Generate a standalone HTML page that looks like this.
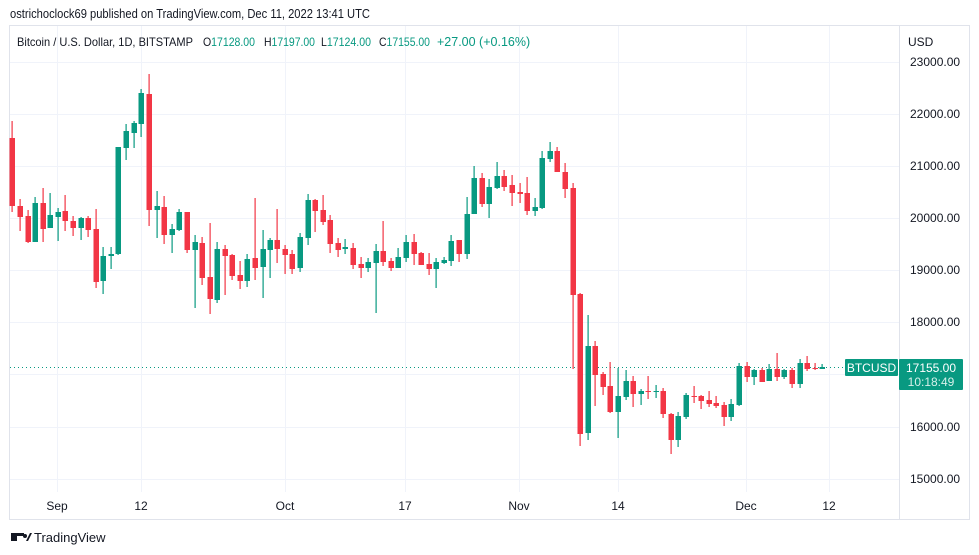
<!DOCTYPE html>
<html><head><meta charset="utf-8"><style>
body{margin:0;background:#fff;width:979px;height:555px;overflow:hidden;font-family:"Liberation Sans",sans-serif;}
</style></head><body>
<svg id="s" width="979" height="555" style="position:absolute;left:0;top:0;" xmlns="http://www.w3.org/2000/svg">
<text x="10" y="18" font-size="12.5" fill="#131722" textLength="360" lengthAdjust="spacingAndGlyphs">ostrichoclock69 published on TradingView.com, Dec 11, 2022 13:41 UTC</text>
<rect x="9.5" y="25.5" width="960" height="494" fill="none" stroke="#e0e3eb"/>
<line x1="899.5" y1="25" x2="899.5" y2="520" stroke="#e0e3eb"/>
<g id="grid" stroke="#f0f3fa" stroke-width="1"></g>
<g font-size="12" fill="#131722" font-family="Liberation Sans, sans-serif">
<text x="17" y="46" textLength="176" lengthAdjust="spacingAndGlyphs">Bitcoin / U.S. Dollar, 1D, BITSTAMP</text>
<text x="203" y="46" textLength="52" lengthAdjust="spacingAndGlyphs">O<tspan fill="#089981">17128.00</tspan></text>
<text x="264" y="46" textLength="51" lengthAdjust="spacingAndGlyphs">H<tspan fill="#089981">17197.00</tspan></text>
<text x="321" y="46" textLength="50" lengthAdjust="spacingAndGlyphs">L<tspan fill="#089981">17124.00</tspan></text>
<text x="379" y="46" textLength="51" lengthAdjust="spacingAndGlyphs">C<tspan fill="#089981">17155.00</tspan></text>
<text x="437" y="46" fill="#089981" font-size="12.5">+27.00 (+0.16%)</text>
<text x="908" y="46">USD</text>
</g>
<g id="yl" font-size="12" fill="#131722" font-family="Liberation Sans, sans-serif"></g>
<g id="xl" font-size="12" fill="#131722" font-family="Liberation Sans, sans-serif" text-anchor="middle"></g>
<line x1="10" y1="367.5" x2="845" y2="367.5" stroke="#089981" stroke-dasharray="1,3"/>
<g id="c"></g>
<rect x="845" y="359" width="53" height="17" rx="1" fill="#089981"/>
<text x="871.5" y="372" font-size="12" fill="#fff" text-anchor="middle">BTCUSD</text>
<rect x="899" y="359" width="64" height="31" rx="1" fill="#089981"/>
<text x="931" y="372" font-size="12" fill="#fff" text-anchor="middle">17155.00</text>
<text x="931" y="386" font-size="12" fill="#d6f0ea" text-anchor="middle">10:18:49</text>
<g transform="translate(11,531)"><rect x="0" y="2" width="6" height="8" fill="#131722"/><rect x="4" y="2" width="9" height="3" fill="#131722"/><circle cx="14" cy="5" r="2" fill="#131722"/><path d="M15 10 L19 2 L21 2 L17 10Z" fill="#131722"/></g>
<text x="34" y="542" font-size="13" fill="#131722">TradingView</text>
</svg>
<script>
var ns="http://www.w3.org/2000/svg";
function el(p,t,a,txt){var e=document.createElementNS(ns,t);for(var k in a)e.setAttribute(k,a[k]);if(txt)e.textContent=txt;document.getElementById(p).appendChild(e);}
var ys=[62,114,166,218,270,322,374,427,479],pr=[23000,22000,21000,20000,19000,18000,17000,16000,15000];
ys.forEach(function(y,i){el('grid','line',{x1:10,x2:899,y1:y+.5,y2:y+.5});if(pr[i]!=17000)el('yl','text',{x:910,y:y+4},pr[i].toFixed(2));});
var xs=[[57,'Sep'],[141,'12'],[285,'Oct'],[405,'17'],[519,'Nov'],[618,'14'],[746,'Dec'],[829,'12']];
xs.forEach(function(a){el('grid','line',{x1:a[0]+.5,x2:a[0]+.5,y1:26,y2:492});el('xl','text',{x:a[0],y:510},a[1]);});
var d=[
[12,121,212,138,206,'r'],[20,199,231,206,217,'r'],[28,210,243,216,242,'r'],[35,197,242,203,242,'g'],[43,188,242,203,229,'r'],[50,193,228,215,228,'g'],[58,208,241,212,217,'g'],[65,195,231,211,221,'r'],[73,216,236,221,228,'r'],[81,217,240,218,228,'g'],[88,216,237,218,230,'r'],[96,209,288,229,282,'r'],[103,247,294,256,281,'g'],[111,247,269,254,256,'g'],[118,147,255,147,254,'g'],[126,124,160,131,148,'g'],[134,121,148,123,133,'g'],[141,89,137,93,124,'g'],[149,74,226,94,210,'r'],[157,191,238,206,210,'g'],[164,196,244,207,235,'r'],[172,224,253,229,235,'g'],[179,209,231,212,230,'g'],[187,212,253,212,250,'r'],[195,235,308,242,250,'g'],[202,237,285,243,278,'r'],[210,223,314,277,299,'r'],[217,242,303,249,300,'g'],[225,245,295,249,256,'r'],[232,254,280,255,276,'r'],[240,261,289,275,281,'r'],[247,254,287,259,281,'g'],[255,198,280,258,268,'r'],[263,230,298,249,267,'g'],[270,238,278,240,250,'g'],[277,209,263,240,249,'r'],[285,245,274,249,255,'r'],[292,250,274,254,269,'r'],
[300,233,272,237,268,'g'],[308,194,245,200,238,'g'],[315,199,232,200,211,'r'],[323,195,225,210,222,'r'],[330,215,253,220,244,'r'],[338,238,257,243,250,'r'],[345,239,254,247,249,'g'],[353,243,269,248,265,'r'],[361,257,278,264,268,'r'],[368,258,272,262,268,'g'],[376,244,313,251,263,'g'],[383,221,266,251,262,'r'],[391,258,271,261,268,'r'],[398,248,268,257,268,'g'],[406,235,262,242,258,'g'],[414,234,265,242,254,'r'],[421,252,265,253,265,'r'],[429,253,275,264,269,'r'],[436,258,288,262,269,'g'],[444,257,264,260,263,'g'],[451,235,266,241,261,'g'],[459,240,262,240,254,'r'],[467,197,259,214,254,'g'],[474,166,214,178,214,'g'],[482,173,207,178,204,'r'],[489,179,218,187,204,'g'],[497,162,189,176,188,'g'],[504,170,191,176,187,'r'],[512,175,206,185,193,'r'],[520,183,203,192,194,'r'],[527,177,215,193,211,'r'],[535,198,216,207,211,'g'],[542,151,209,158,208,'g'],[550,142,162,151,159,'g'],[557,147,172,151,172,'r'],[565,163,198,172,189,'r'],[573,183,369,188,295,'r'],[580,293,446,294,434,'r'],[588,315,440,346,433,'g'],[595,341,406,346,375,'r'],[603,372,395,374,387,'r'],[610,362,413,386,412,'r'],[618,368,438,396,412,'g'],[626,370,400,381,397,'g'],[633,376,407,381,394,'r'],[641,389,405,391,394,'g'],[648,376,399,391,392,'r'],[656,385,398,391,392,'g'],[663,388,418,391,414,'r'],[671,413,454,414,440,'r'],[678,412,447,416,440,'g'],[686,393,419,395,417,'g'],[694,386,403,396,397,'r'],[701,395,409,396,401,'r'],[709,391,407,400,404,'r'],[716,396,408,403,406,'r'],[724,402,426,405,417,'r'],[731,399,421,404,417,'g'],[739,363,406,366,405,'g'],[747,362,382,366,377,'r'],[754,369,385,370,377,'g'],[762,368,382,370,382,'r'],[769,364,381,369,381,'g'],[777,353,381,369,377,'r'],[784,369,379,370,377,'g'],[792,368,388,370,384,'r'],[800,359,388,363,384,'g'],[807,356,371,363,369,'r'],[815,363,370,368,369,'r'],[822,364,369,367,369,'g']];
d.forEach(function(c){var col=c[5]=='g'?'#089981':'#f23645';
el('c','rect',{x:c[0]-0.5,y:c[1],width:1.2,height:c[2]-c[1],fill:col});
el('c','rect',{x:c[0]-2.5,y:c[3],width:5.5,height:Math.max(1,c[4]-c[3]),fill:col});});
</script>
</body></html>
